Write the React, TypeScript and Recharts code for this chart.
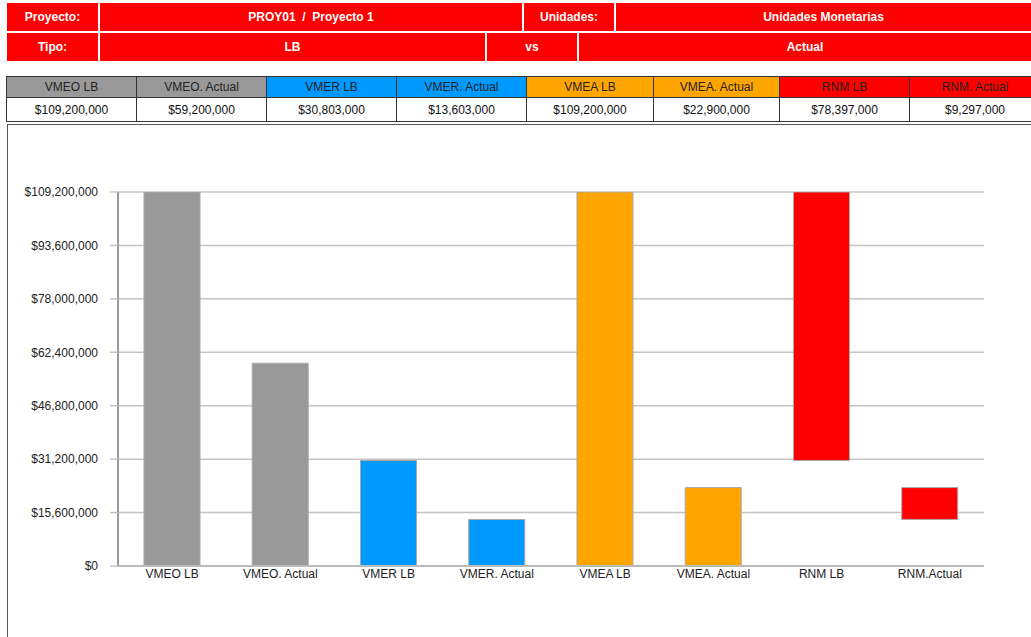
import React from 'react';
import { Bar, BarChart, CartesianGrid, Cell, XAxis, YAxis } from 'recharts';

// chart values
const categories = ['VMEO LB', 'VMEO. Actual', 'VMER LB', 'VMER. Actual', 'VMEA LB', 'VMEA. Actual', 'RNM LB', 'RNM.Actual'];
const barBase = [0, 0, 0, 0, 0, 0, 30803000, 13603000];
const barTop = [109200000, 59200000, 30803000, 13603000, 109200000, 22900000, 109200000, 22900000];
const barColors = ['#999999', '#999999', '#0099ff', '#0099ff', '#ffa500', '#ffa500', '#ff0000', '#ff0000'];
const yTicks = [0, 15600000, 31200000, 46800000, 62400000, 78000000, 93600000, 109200000];

// summary table
const summaryHeaders = ['VMEO LB', 'VMEO. Actual', 'VMER LB', 'VMER. Actual', 'VMEA LB', 'VMEA. Actual', 'RNM LB', 'RNM. Actual'];
const summaryValues = [109200000, 59200000, 30803000, 13603000, 109200000, 22900000, 78397000, 9297000];
const summaryColors = ['#999999', '#999999', '#0099ff', '#0099ff', '#ffa500', '#ffa500', '#ff0000', '#ff0000'];
const summaryCols = [6, 136, 266, 396, 526, 653, 779, 909, 1040];

const money = (v: number) => `$${v.toLocaleString('en-US')}`;

const chartData = categories.map((name, i) => ({ name, range: [barBase[i], barTop[i]] }));

const RED = '#ff0000';

function HeadCell({ x, y, w, h, text }: { x: number; y: number; w: number; h: number; text: string }) {
  return (
    <div
      style={{
        position: 'absolute', left: x, top: y, width: w, height: h,
        background: RED, color: '#fff', fontWeight: 'bold', fontSize: 12, whiteSpace: 'pre',
        display: 'flex', alignItems: 'center', justifyContent: 'center',
      }}
    >
      {text}
    </div>
  );
}

export default function App() {
  return (
    <div
      style={{
        position: 'absolute', left: 0, top: 0, width: 1031, height: 637, overflow: 'hidden',
        background: '#fff', fontFamily: '"Liberation Sans", Arial, sans-serif',
      }}
    >
      {/* project header */}
      <HeadCell x={7} y={3} w={91} h={28} text="Proyecto:" />
      <HeadCell x={100} y={3} w={422} h={28} text="PROY01  /  Proyecto 1" />
      <HeadCell x={524} y={3} w={90} h={28} text="Unidades:" />
      <HeadCell x={616} y={3} w={415} h={28} text="Unidades Monetarias" />
      <HeadCell x={7} y={33} w={91} h={28} text="Tipo:" />
      <HeadCell x={100} y={33} w={385} h={28} text="LB" />
      <HeadCell x={487} y={33} w={90} h={28} text="vs" />
      <HeadCell x={579} y={33} w={452} h={28} text="Actual" />

      {/* summary table */}
      {summaryHeaders.map((h, i) => (
        <React.Fragment key={h}>
          <div
            style={{
              position: 'absolute', left: summaryCols[i], top: 76, width: summaryCols[i + 1] - summaryCols[i],
              height: 22, boxSizing: 'border-box', border: '1.5px solid #333', borderRight: 'none',
              background: summaryColors[i], color: '#222', fontSize: 12,
              display: 'flex', alignItems: 'center', justifyContent: 'center',
            }}
          >
            {h}
          </div>
          <div
            style={{
              position: 'absolute', left: summaryCols[i], top: 98, width: summaryCols[i + 1] - summaryCols[i],
              height: 24, boxSizing: 'border-box', border: '1.5px solid #333', borderRight: 'none', borderTop: 'none',
              background: '#fff', color: '#111', fontSize: 12,
              display: 'flex', alignItems: 'center', justifyContent: 'center',
            }}
          >
            {money(summaryValues[i])}
          </div>
        </React.Fragment>
      ))}

      {/* chart frame */}
      <div
        style={{
          position: 'absolute', left: 7, top: 124, width: 1040, height: 540,
          borderLeft: '1.5px solid #555', borderTop: '1.5px solid #555',
        }}
      />

      <div style={{ position: 'absolute', left: 7, top: 124 }}>
        <BarChart
          width={1024}
          height={513}
          data={chartData}
          margin={{ top: 68, right: 47, bottom: 41, left: 11 }}
          barCategoryGap="24%"
        >
          <CartesianGrid vertical={false} stroke="#c4c4c4" strokeWidth={1.5} />
          <XAxis
            dataKey="name"
            height={30}
            tickLine={false}
            tickSize={0}
            tickMargin={3}
            axisLine={{ stroke: '#bbbbbb', strokeWidth: 2 }}
            tick={{ fill: '#222', fontSize: 12 }}
            interval={0}
          />
          <YAxis
            width={100}
            domain={[0, 109200000]}
            ticks={yTicks}
            tickFormatter={money}
            tickSize={8}
            tickMargin={12}
            tickLine={{ stroke: '#c4c4c4', strokeWidth: 1.5 }}
            axisLine={{ stroke: '#999999', strokeWidth: 2 }}
            tick={{ fill: '#222', fontSize: 12 }}
            allowDataOverflow
          />
          <Bar dataKey="range" stroke="#a8a8a8" strokeWidth={1} isAnimationActive={false}>
            {chartData.map((d, i) => (
              <Cell key={d.name} fill={barColors[i]} />
            ))}
          </Bar>
        </BarChart>
      </div>
    </div>
  );
}
